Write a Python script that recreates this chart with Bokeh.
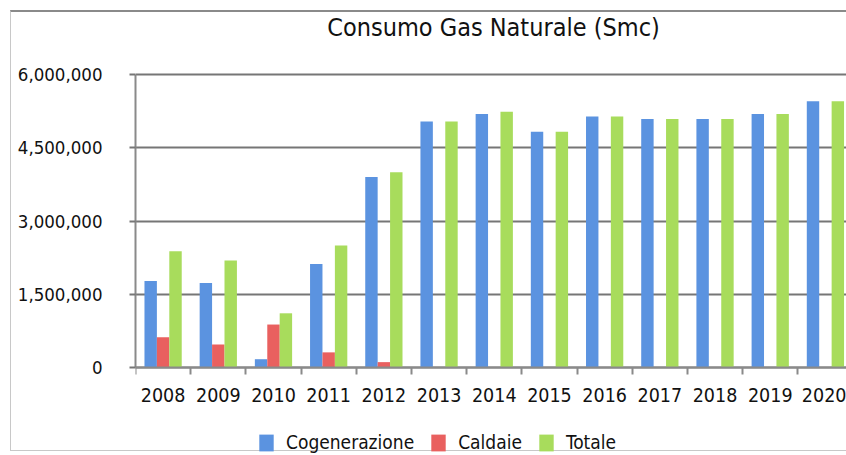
from bokeh.plotting import figure
from bokeh.models import (Range1d, FixedTicker, NumeralTickFormatter, Legend,
                          LegendItem, Label, ColumnDataSource)
from bokeh.transform import dodge
from bokeh.embed import file_html
from bokeh.resources import INLINE

# Annual natural gas consumption (standard cubic metres)
years = ["2008", "2009", "2010", "2011", "2012", "2013", "2014",
         "2015", "2016", "2017", "2018", "2019", "2020"]
cogenerazione = [1770000, 1730000, 170000, 2120000, 3900000, 5040000, 5190000,
                 4830000, 5140000, 5090000, 5090000, 5190000, 5450000]
caldaie = [620000, 470000, 880000, 310000, 110000, 0, 0,
           0, 0, 0, 0, 0, 0]
totale = [2380000, 2190000, 1110000, 2500000, 4000000, 5040000, 5240000,
          4830000, 5140000, 5090000, 5090000, 5190000, 5450000]
y_ticks = [0, 1500000, 3000000, 4500000, 6000000]

FONT = "DejaVu Sans Condensed"
TEXT = "#111111"
GRID = "#767676"

centers = [i + 0.5 for i in range(len(years))]
src = ColumnDataSource(dict(x=centers, cog=cogenerazione, cal=caldaie, tot=totale))

# The frame fills the canvas height: the value range reaches above the top
# tick (room for the title) and below zero (room for labels and legend).
p = figure(width=836, height=441, output_backend="svg", toolbar_location=None,
           x_range=Range1d(0, 12.9), y_range=Range1d(-1761000, 7270000),
           margin=(10, 0, 0, 10),
           styles={"border-top": "2px solid #8a8a8a",
                   "border-left": "1px solid #c8c8c8",
                   "border-bottom": "1px solid #c8c8c8"},
           min_border_left=124, min_border_right=0, min_border_top=0,
           min_border_bottom=0)

p.outline_line_color = None
p.background_fill_color = "white"
p.border_fill_color = "white"

bw = 0.225
r_cog = p.vbar(x=dodge("x", -bw, range=p.x_range), top="cog", width=bw,
               source=src, fill_color="#5b93e0", line_color=None)
r_cal = p.vbar(x="x", top="cal", width=bw, source=src,
               fill_color="#e9605f", line_color=None)
r_tot = p.vbar(x=dodge("x", bw, range=p.x_range), top="tot", width=bw,
               source=src, fill_color="#a8dc5c", line_color=None)

# x axis sits on the zero line: labels at category centres,
# tick marks at category boundaries
xa = p.xaxis[0]
xa.fixed_location = 0
xa.ticker = FixedTicker(ticks=centers, minor_ticks=list(range(len(years) + 1)))
xa.major_label_overrides = {c: y for c, y in zip(centers, years)}
xa.major_tick_out = 0
xa.major_tick_in = 0
xa.minor_tick_out = 7
xa.minor_tick_in = 0
xa.minor_tick_line_color = "#8a8a8a"
xa.minor_tick_line_width = 2
xa.axis_line_color = "#8a8a8a"
xa.axis_line_width = 2
xa.major_label_text_font = FONT
xa.major_label_text_font_size = "19.5px"
xa.major_label_text_color = TEXT
xa.major_label_standoff = 13

ya = p.yaxis[0]
ya.bounds = (0, 6000000)
ya.ticker = FixedTicker(ticks=y_ticks)
ya.formatter = NumeralTickFormatter(format="0,0")
ya.major_tick_out = 6
ya.major_tick_in = 0
ya.minor_tick_line_color = None
ya.major_tick_line_color = GRID
ya.major_tick_line_width = 2
ya.axis_line_color = "#8a8a8a"
ya.axis_line_width = 2
ya.major_label_text_font = FONT
ya.major_label_text_font_size = "18.5px"
ya.major_label_text_color = TEXT
ya.major_label_standoff = 27

p.xgrid.grid_line_color = None
p.ygrid.grid_line_color = GRID
p.ygrid.grid_line_width = 2

title = Label(x=358, y=426, x_units="screen", y_units="screen",
              text="Consumo Gas Naturale (Smc)", text_font=FONT,
              text_font_size="25px", text_color=TEXT,
              text_align="center", text_baseline="middle")
p.add_layout(title)

legend = Legend(items=[LegendItem(label="Cogenerazione", renderers=[r_cog]),
                       LegendItem(label="Caldaie", renderers=[r_cal]),
                       LegendItem(label="Totale", renderers=[r_tot])],
                orientation="horizontal", location=(122, 0),
                label_text_font=FONT, label_text_font_size="19px",
                label_text_color=TEXT, glyph_width=18, glyph_height=21,
                label_standoff=11, spacing=15, padding=0, margin=0,
                border_line_color=None, background_fill_alpha=0)
p.add_layout(legend)

open("out.html", "w").write(file_html(p, INLINE))
